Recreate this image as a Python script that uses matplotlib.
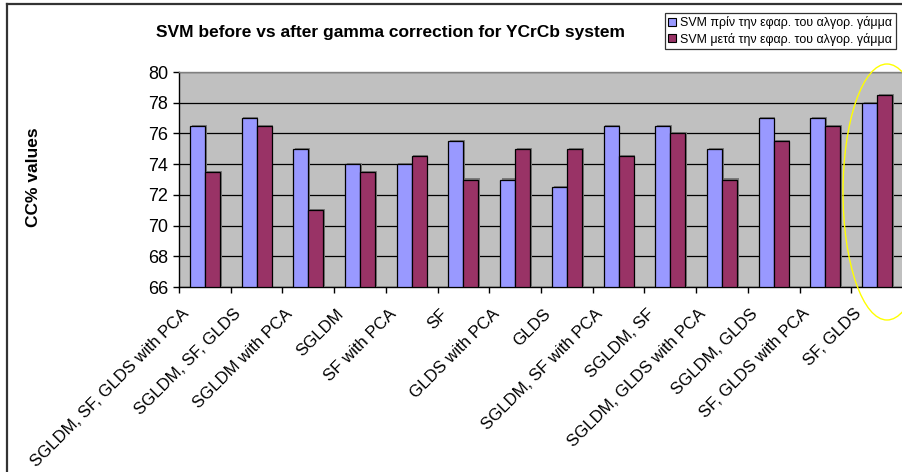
import matplotlib
matplotlib.use("Agg")
import matplotlib.pyplot as plt
import numpy as np
from matplotlib.patches import Ellipse
from matplotlib.lines import Line2D
import matplotlib.patheffects as pe
from matplotlib.transforms import ScaledTranslation, blended_transform_factory

plt.rcParams['font.family'] = ['Liberation Sans', 'DejaVu Sans']

categories = [
    "SGLDM, SF, GLDS with PCA", "SGLDM, SF, GLDS", "SGLDM with PCA", "SGLDM",
    "SF with PCA", "SF", "GLDS with PCA", "GLDS", "SGLDM, SF with PCA",
    "SGLDM, SF", "SGLDM, GLDS with PCA", "SGLDM, GLDS", "SF, GLDS with PCA",
    "SF, GLDS",
]
svm_before = [76.5, 77, 75, 74, 74, 75.5, 73, 72.5, 76.5, 76.5, 75, 77, 77, 78]
svm_after = [73.5, 76.5, 71, 73.5, 74.5, 73, 75, 75, 74.5, 76, 73, 75.5, 76.5, 78.5]
series_names = ["SVM πρίν την εφαρ. του αλγορ. γάμμα",
                "SVM μετά την εφαρ. του αλγορ. γάμμα"]
y_ticks = [66, 68, 70, 72, 74, 76, 78, 80]

W, H = 902, 472
fig = plt.figure(figsize=(W / 100, H / 100), dpi=100)
ax = fig.add_axes([179 / W, 1 - 287 / H, 724 / W, 215 / H])
ax.set_facecolor("#C0C0C0")

n = len(categories)
x = np.arange(n) + 0.5
bw = 0.29
shadow = [pe.SimplePatchShadow(offset=(1.2, 0.8), shadow_rgbFace="#7a7a7a", alpha=1.0),
          pe.Normal()]
b1 = ax.bar(x - bw / 2, np.array(svm_before) - 66, bw, bottom=66, color="#9999FF",
            edgecolor="black", linewidth=0.9, zorder=3, label=series_names[0])
b2 = ax.bar(x + bw / 2, np.array(svm_after) - 66, bw, bottom=66, color="#993366",
            edgecolor="black", linewidth=0.9, zorder=3, label=series_names[1])
for b in list(b1) + list(b2):
    b.set_path_effects(shadow)

ax.set_xlim(0, n)
ax.set_ylim(66, 80)
ax.set_yticks(y_ticks)
ax.set_yticklabels([str(t) for t in y_ticks], fontsize=13)
ax.yaxis.grid(True, color="black", linewidth=0.9, zorder=1)
ax.set_axisbelow(True)

# category boundaries carry the tick marks; names sit under each group
ax.set_xticks(np.arange(n + 1))
ax.set_xticklabels([])
ax.tick_params(axis="x", which="major", length=4, width=1, color="black", direction="out")
ax.tick_params(axis="y", length=4, width=1, direction="out", pad=4)

label_tr = blended_transform_factory(ax.transData, ax.transAxes) + \
    ScaledTranslation(-0.13, -0.19, fig.dpi_scale_trans)
for xi, name in zip(x, categories):
    ax.text(xi, 0, name, transform=label_tr, rotation=45, ha="right", va="top",
            fontsize=12.1, clip_on=False)

for s in ["left", "bottom"]:
    ax.spines[s].set_color("black")
    ax.spines[s].set_linewidth(1)
ax.spines["top"].set_color("#808080")
ax.spines["top"].set_linewidth(1)
ax.spines["right"].set_visible(False)

ax.set_ylabel("CC% values", fontsize=12.5, fontweight="bold", labelpad=0)
ax.yaxis.set_label_coords(41 / W, 1 - 177 / H, transform=fig.transFigure)

fig.text(391 / W, 1 - 32 / H, "SVM before vs after gamma correction for YCrCb system",
         ha="center", va="center", fontsize=12.5, fontweight="bold")

handles = [
    Line2D([], [], marker="s", linestyle="none", markersize=6, markerfacecolor="#9999FF",
           markeredgecolor="black", markeredgewidth=0.8),
    Line2D([], [], marker="s", linestyle="none", markersize=6, markerfacecolor="#993366",
           markeredgecolor="black", markeredgewidth=0.8),
]
leg = fig.legend(handles, series_names, loc="upper left",
                 bbox_to_anchor=(665 / W, 1 - 13 / H), fontsize=8.9, frameon=True,
                 fancybox=False, edgecolor="black", handlelength=0.7,
                 handletextpad=0.3, borderpad=0.25, labelspacing=0.3,
                 borderaxespad=0)
leg.get_frame().set_linewidth(0.9)

# highlight around the last group
ell = Ellipse((887 / W, 1 - 192 / H), 88 / W, 256 / H, transform=fig.transFigure,
              fill=False, edgecolor="#FFFF00", linewidth=1.0, zorder=10)
fig.add_artist(ell)

# outer chart border
fig.add_artist(Line2D([7 / W, 7 / W], [0, 1 - 4 / H], transform=fig.transFigure,
                      color="#333333", linewidth=1.6))
fig.add_artist(Line2D([7 / W, 1], [1 - 4 / H, 1 - 4 / H], transform=fig.transFigure,
                      color="#333333", linewidth=1.6))

fig.savefig("out.png", dpi=100)
